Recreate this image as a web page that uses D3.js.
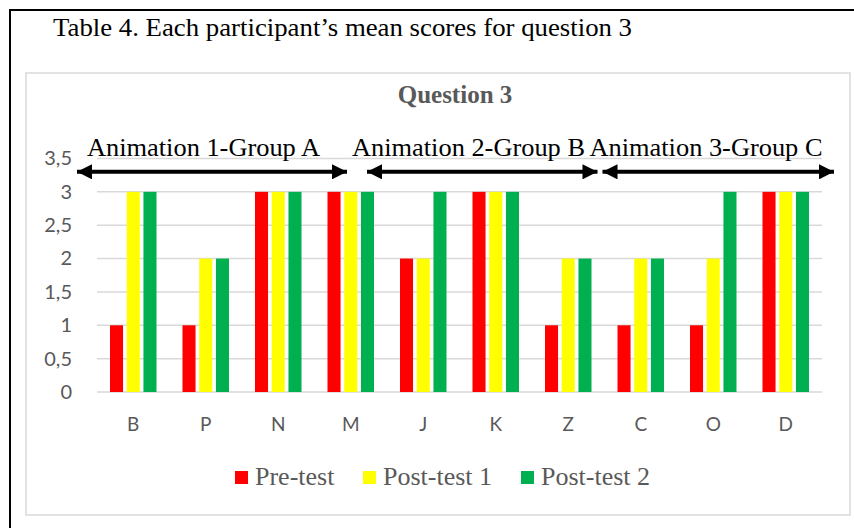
<!DOCTYPE html>
<html>
<head>
<meta charset="utf-8">
<script src="https://cdn.jsdelivr.net/npm/d3@7"></script>
<style>
  html, body { margin: 0; padding: 0; background: #fff; }
  svg { display: block; }
</style>
</head>
<body>
<div id="chart"></div>
<script>
// data
const participants = ['B', 'P', 'N', 'M', 'J', 'K', 'Z', 'C', 'O', 'D'];
const seriesNames = ['Pre-test', 'Post-test 1', 'Post-test 2'];
const preTest = [1, 1, 3, 3, 2, 3, 1, 1, 1, 3];
const postTest1 = [3, 2, 3, 3, 2, 3, 2, 2, 2, 3];
const postTest2 = [3, 2, 3, 3, 3, 3, 2, 2, 3, 3];
const yTicks = [0, 0.5, 1, 1.5, 2, 2.5, 3, 3.5];
const groupLabels = ['Animation 1-Group A', 'Animation 2-Group B', 'Animation 3-Group C'];
const groupMembers = [['B', 'P', 'N', 'M'], ['J', 'K', 'Z'], ['C', 'O', 'D']];

const seriesValues = [preTest, postTest1, postTest2];
const colors = ['#ff0000', '#ffff00', '#00b050'];

const width = 854;
const height = 528;
const plot = { left: 97, right: 822, top: 158.5, bottom: 392 };

const svg = d3
  .select('#chart')
  .append('svg')
  .attr('width', width)
  .attr('height', height);

// outer black page border (top and left only)
svg.append('line')
  .attr('x1', 9).attr('x2', width).attr('y1', 10).attr('y2', 10)
  .attr('stroke', '#000').attr('stroke-width', 2);
svg.append('line')
  .attr('x1', 10).attr('x2', 10).attr('y1', 9).attr('y2', height)
  .attr('stroke', '#000').attr('stroke-width', 2);

// caption above the chart
svg.append('text')
  .attr('x', 53)
  .attr('y', 36)
  .attr('font-family', 'Liberation Serif, Times New Roman, serif')
  .attr('font-size', 26)
  .attr('textLength', 579)
  .attr('lengthAdjust', 'spacingAndGlyphs')
  .attr('fill', '#000')
  .text('Table 4. Each participant\u2019s mean scores for question 3');

// chart frame
svg.append('rect')
  .attr('x', 26).attr('y', 73)
  .attr('width', 824).attr('height', 442)
  .attr('fill', '#fff')
  .attr('stroke', '#d9d9d9')
  .attr('stroke-width', 1.5);

// chart title
svg.append('text')
  .attr('x', 455)
  .attr('y', 103)
  .attr('text-anchor', 'middle')
  .attr('font-family', 'Liberation Serif, Times New Roman, serif')
  .attr('font-weight', 'bold')
  .attr('font-size', 25)
  .attr('fill', '#595959')
  .text('Question 3');

// scales
const x0 = d3.scaleBand()
  .domain(participants)
  .range([plot.left, plot.right])
  .padding(0);

const x1 = d3.scaleBand()
  .domain(seriesNames)
  .range([13, x0.bandwidth() - 13])
  .paddingInner(0.22);

const y = d3.scaleLinear()
  .domain([0, 3.5])
  .range([plot.bottom, plot.top]);

// gridlines
svg.append('g')
  .selectAll('line')
  .data(yTicks)
  .enter()
  .append('line')
  .attr('x1', plot.left)
  .attr('x2', plot.right)
  .attr('y1', d => y(d))
  .attr('y2', d => y(d))
  .attr('stroke', '#d9d9d9')
  .attr('stroke-width', 1.5);

// y axis labels
const yAxis = svg.append('g')
  .attr('transform', `translate(${plot.left - 22}, 0)`)
  .call(d3.axisLeft(y).tickValues(yTicks).tickSize(0).tickFormat(d => String(d).replace('.', ',')));
yAxis.select('.domain').remove();
yAxis.selectAll('text')
  .attr('font-family', 'Lato, Open Sans, sans-serif')
  .attr('font-size', 20)
  .attr('fill', '#595959');

// x axis labels
const xAxis = svg.append('g')
  .attr('transform', `translate(0, ${plot.bottom + 22})`)
  .call(d3.axisBottom(x0).tickSize(0));
xAxis.select('.domain').remove();
xAxis.selectAll('text')
  .attr('font-family', 'Lato, Open Sans, sans-serif')
  .attr('font-size', 19)
  .attr('fill', '#595959');

// bars
const rows = participants.map((p, i) => ({
  name: p,
  values: seriesNames.map((s, j) => ({ series: s, index: j, value: seriesValues[j][i] }))
}));

svg.append('g')
  .selectAll('g')
  .data(rows)
  .enter()
  .append('g')
  .attr('transform', d => `translate(${x0(d.name)}, 0)`)
  .selectAll('rect')
  .data(d => d.values)
  .enter()
  .append('rect')
  .attr('x', d => x1(d.series))
  .attr('y', d => y(d.value))
  .attr('width', x1.bandwidth())
  .attr('height', d => y(0) - y(d.value))
  .attr('fill', d => colors[d.index]);

// group annotations: hand placed arrows in the original, offsets in px
const arrowOffsets = [[-20, -40], [-20, -7], [-2, 12]];
const labelOffsets = [10, -15, -13];
const arrowY = y(3.3);

svg.append('defs').append('marker')
  .attr('id', 'head')
  .attr('viewBox', '0 0 10 10')
  .attr('refX', 10).attr('refY', 5)
  .attr('markerUnits', 'userSpaceOnUse')
  .attr('markerWidth', 16).attr('markerHeight', 15)
  .attr('orient', 'auto-start-reverse')
  .append('path')
  .attr('d', 'M0,0 L10,5 L0,10 Z')
  .attr('fill', '#000');

groupMembers.forEach((members, i) => {
  const first = members[0];
  const last = members[members.length - 1];
  const xa = x0(first) + arrowOffsets[i][0];
  const xb = x0(last) + x0.bandwidth() + arrowOffsets[i][1];

  svg.append('line')
    .attr('x1', xa).attr('x2', xb)
    .attr('y1', arrowY).attr('y2', arrowY)
    .attr('stroke', '#000')
    .attr('stroke-width', 4)
    .attr('marker-start', 'url(#head)')
    .attr('marker-end', 'url(#head)');

  svg.append('text')
    .attr('x', xa + labelOffsets[i])
    .attr('y', y(3.535))
    .attr('font-family', 'Liberation Serif, Times New Roman, serif')
    .attr('font-size', 26)
    .attr('textLength', 233)
    .attr('lengthAdjust', 'spacingAndGlyphs')
    .attr('fill', '#000')
    .text(groupLabels[i]);
});

// legend
const legendX = [235, 363, 521];
const legend = svg.append('g');
seriesNames.forEach((s, i) => {
  legend.append('rect')
    .attr('x', legendX[i]).attr('y', 471)
    .attr('width', 13).attr('height', 13)
    .attr('fill', colors[i]);
  legend.append('text')
    .attr('x', legendX[i] + 20)
    .attr('y', 485)
    .attr('font-family', 'Liberation Serif, Times New Roman, serif')
    .attr('font-size', 26)
    .attr('fill', '#595959')
    .text(s);
});
</script>
</body>
</html>
